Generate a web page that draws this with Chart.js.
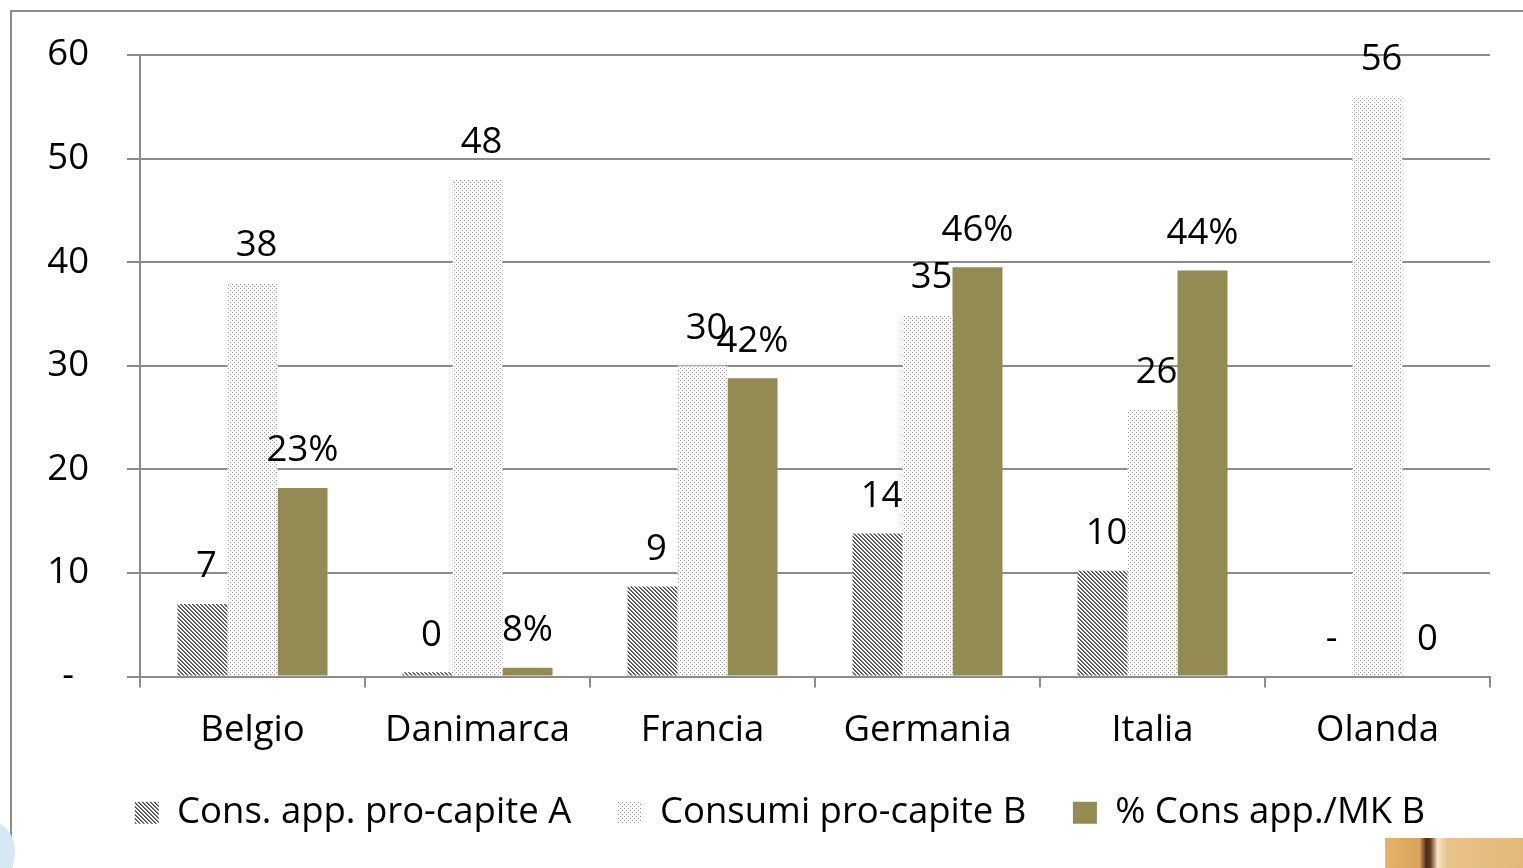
<!DOCTYPE html>
<html>
<head>
<meta charset="utf-8">
<script src="https://cdn.jsdelivr.net/npm/chart.js@4.4.1/dist/chart.umd.min.js"></script>
<style>
  html, body { margin: 0; padding: 0; background: #fff; overflow: hidden; }
  #wrap { position: relative; width: 1523px; height: 868px; }
  #frame { position: absolute; left: 10px; top: 10px; width: 3000px; height: 3000px;
           border-left: 2px solid #8c8c8c; border-top: 2px solid #8c8c8c; }
  #c { position: absolute; left: 0; top: 0; }
  #deco1 { position: absolute; left: 1385px; top: 838px; width: 138px; height: 30px;
           background: linear-gradient(90deg, #e6b36a 0%, #d9a25a 25%, #4a2a18 30%, #6b3a20 33%, #f4e6c8 38%, #e8c48a 45%, #e3b878 100%); }
  #deco2 { position: absolute; left: -30px; top: 822px; width: 45px; height: 60px; border-radius: 50%;
           background: #d6e8f4; }
</style>
</head>
<body>
<div id="wrap">
  <div id="frame"></div>
  <div id="deco2"></div>
  <div id="deco1"></div>
  <canvas id="c" width="1523" height="868"></canvas>
</div>
<script>
// ---- data ----
const categories = ['Belgio', 'Danimarca', 'Francia', 'Germania', 'Italia', 'Olanda'];
const seriesNames = ['Cons. app. pro-capite A', 'Consumi pro-capite B', '% Cons app./MK B'];
const consApp = [7, 0.4, 8.7, 13.8, 10.2, 0];
const consumi = [38, 48, 30, 34.9, 25.8, 56];
const percCons = [18.2, 0.85, 28.8, 39.5, 39.2, 0];
const labelsA = ['7', '0', '9', '14', '10', '-'];
const labelsB = ['38', '48', '30', '35', '26', '56'];
const labelsC = ['23%', '8%', '42%', '46%', '44%', '0'];
const yTicks = [0, 10, 20, 30, 40, 50, 60];

// ---- patterns ----
function makePattern(draw) {
  const t = document.createElement('canvas');
  t.width = 4; t.height = 4;
  const g = t.getContext('2d');
  g.fillStyle = '#ffffff';
  g.fillRect(0, 0, 4, 4);
  draw(g);
  return document.getElementById('c').getContext('2d').createPattern(t, 'repeat');
}
const hatch = makePattern(g => {
  g.fillStyle = '#454545';
  for (let i = 0; i < 4; i++) g.fillRect(i, i, 1, 1);
  g.fillStyle = '#808080';
  for (let i = 0; i < 4; i++) g.fillRect((i + 1) % 4, i, 1, 1);
});
const dots = makePattern(g => {
  g.fillStyle = '#9c9c9c';
  g.fillRect(0, 0, 1, 1);
  g.fillRect(2, 2, 1, 1);
});

const FONT = 'Open Sans';
const FS = 36.5;
const labelSets = [labelsA, labelsB, labelsC];

const valueLabels = {
  id: 'valueLabels',
  afterDatasetsDraw(chart, args, opts) {
    const ctx = chart.ctx;
    ctx.save();
    ctx.font = FS + 'px "' + FONT + '"';
    ctx.fillStyle = '#000';
    ctx.textAlign = 'center';
    ctx.textBaseline = 'middle';
    chart.data.datasets.forEach((ds, di) => {
      const meta = chart.getDatasetMeta(di);
      meta.data.forEach((el, i) => {
        ctx.fillText(labelSets[di][i], el.x + opts.dx[di], el.y - opts.dy);
      });
    });
    ctx.restore();
  }
};

// shifts the legend box (only its drawing position) after layout
const legendShift = {
  id: 'legendShift',
  afterLayout(chart, args, opts) {
    const lg = chart.legend;
    if (!lg) return;
    lg.left += opts.x; lg.right += opts.x;
    lg.top += opts.y; lg.bottom += opts.y;
  }
};

function draw() {
  new Chart(document.getElementById('c'), {
    type: 'bar',
    data: {
      labels: categories,
      datasets: [
        { label: seriesNames[0], data: consApp, backgroundColor: hatch },
        { label: seriesNames[1], data: consumi, backgroundColor: dots },
        { label: seriesNames[2], data: percCons, backgroundColor: '#948A54' }
      ]
    },
    options: {
      responsive: false,
      animation: false,
      devicePixelRatio: 1,
      layout: { padding: { left: 20, right: 33, top: 55, bottom: 29 } },
      datasets: { bar: { categoryPercentage: 0.6667, barPercentage: 1.0, borderWidth: 0 } },
      scales: {
        x: {
          offset: true,
          grid: { offset: true, drawOnChartArea: false, drawTicks: true, tickLength: 11, color: '#8c8c8c', lineWidth: 2 },
          border: { display: true, color: '#8c8c8c', width: 2 },
          ticks: { font: { family: FONT, size: FS }, color: '#000', padding: 21 },
          afterFit(s) { s.height = 106; }
        },
        y: {
          min: 0, max: 60,
          afterBuildTicks(s) { s.ticks = yTicks.map(v => ({ value: v })); },
          grid: { color: '#8c8c8c', lineWidth: 2, drawTicks: true, tickLength: 13 },
          border: { display: true, color: '#8c8c8c', width: 2 },
          ticks: {
            font: { family: FONT, size: FS, lineHeight: 0.5 }, color: '#000', crossAlign: 'center', padding: 38,
            callback: v => (v === 0 ? '-' : String(v))
          },
          afterFit(s) { s.width = 120; }
        }
      },
      plugins: {
        legend: {
          position: 'bottom',
          labels: {
            font: { family: FONT, size: FS }, color: '#000', boxWidth: 24, boxHeight: 22, padding: 10,
            generateLabels(chart) {
              const items = Chart.defaults.plugins.legend.labels.generateLabels(chart);
              items.forEach((it, i) => { if (i < items.length - 1) it.text = it.text + '\u2003'; it.lineWidth = 0; });
              return items;
            }
          }
        },
        tooltip: { enabled: false },
        valueLabels: { dy: 37, dx: [4, 4, 0] },
        legendShift: { x: 25, y: 2 }
      }
    },
    plugins: [valueLabels, legendShift]
  });
}
if (document.fonts && document.fonts.load) {
  document.fonts.load(FS + 'px "' + FONT + '"').then(draw, draw);
} else { draw(); }
</script>
</body>
</html>
